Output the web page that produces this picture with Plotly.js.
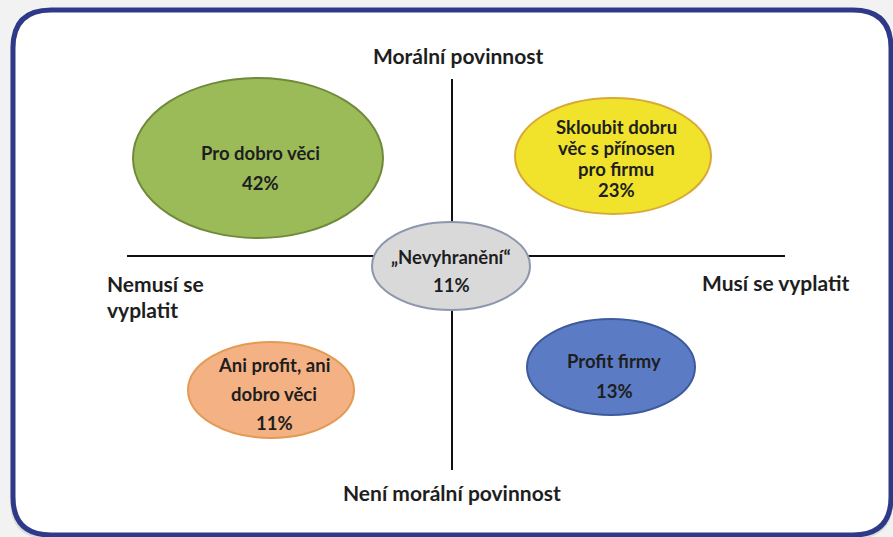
<!DOCTYPE html>
<html>
<head>
<meta charset="utf-8">
<script src="https://cdn.plot.ly/plotly-3.0.1.min.js"></script>
<style>
  html, body { margin: 0; padding: 0; background: #f2f2f2; }
  #chart { width: 893px; height: 537px; }
</style>
</head>
<body>
<div id="chart"></div>
<script>
// segments of the attitude map and their shares (%)
const segments = ['Pro dobro věci', 'Skloubit dobru\nvěc s přínosen\npro firmu', '„Nevyhranění“', 'Ani profit, ani\ndobro věci', 'Profit firmy'];
const shares = [42, 23, 11, 11, 13];
// axis end labels: top, bottom, left, right
const axisLabels = ['Morální povinnost', 'Není morální povinnost', 'Nemusí se\nvyplatit', 'Musí se vyplatit'];

// bubble placement (pixel space of the picture)
const bubbleCx = [258, 613, 451, 271, 611];
const bubbleCy = [158, 156, 266, 390, 367];
const bubbleRx = [125, 98, 79, 83, 84];
const bubbleRy = [80, 58, 44, 48, 48];
const textCx = [260, 616, 451, 274, 614];
const firstLineY = [153, 127, 257, 365, 361];
const lineGap = [30, 21, 28, 29, 30];
const fills = ['#9bbb59', '#f1e32c', '#d9d9d9', '#f4b183', '#5b7cc4'];
const borders = ['#6f8a3a', '#d9a934', '#8c97ad', '#e39a55', '#3d5a9c'];

const W = 893, H = 537;
const font = { family: 'Lato, "Open Sans", sans-serif', size: 18.5, color: '#1e1e1e' };

const roundedBox = (x0, y0, x1, y1, r) =>
    `M ${x0 + r},${y0} L ${x1 - r},${y0} Q ${x1},${y0} ${x1},${y0 + r} ` +
    `L ${x1},${y1 - r} Q ${x1},${y1} ${x1 - r},${y1} L ${x0 + r},${y1} ` +
    `Q ${x0},${y1} ${x0},${y1 - r} L ${x0},${y0 + r} Q ${x0},${y0} ${x0 + r},${y0} Z`;

const shapes = [
    // soft shadow + frame
    { type: 'path', path: roundedBox(10, 12, 893, 539, 38), fillcolor: '#dcdcdc', line: { width: 0 } },
    { type: 'path', path: roundedBox(13, 10, 891, 535, 38), fillcolor: '#ffffff', line: { color: '#2e3a87', width: 5 } },
    // cross
    { type: 'line', x0: 452, x1: 452, y0: 79, y1: 470, line: { color: '#111', width: 2 } },
    { type: 'line', x0: 127, x1: 785, y0: 256, y1: 256, line: { color: '#111', width: 2 } }
];

segments.forEach((s, i) => {
    shapes.push({
        type: 'circle',
        x0: bubbleCx[i] - bubbleRx[i], x1: bubbleCx[i] + bubbleRx[i],
        y0: bubbleCy[i] - bubbleRy[i], y1: bubbleCy[i] + bubbleRy[i],
        fillcolor: fills[i],
        line: { color: borders[i], width: 2 }
    });
});

const annotations = [];
segments.forEach((s, i) => {
    const lines = s.split('\n').concat([shares[i] + '%']);
    lines.forEach((t, j) => {
        annotations.push({
            x: textCx[i], y: firstLineY[i] + j * lineGap[i],
            text: '<b>' + t + '</b>', showarrow: false,
            xanchor: 'center', yanchor: 'middle', font
        });
    });
});

const axisFont = Object.assign({}, font, { size: 21 });
annotations.push(
    { x: 458, y: 55, text: '<b>' + axisLabels[0] + '</b>', showarrow: false, xanchor: 'center', yanchor: 'middle', font: axisFont },
    { x: 452, y: 492, text: '<b>' + axisLabels[1] + '</b>', showarrow: false, xanchor: 'center', yanchor: 'middle', font: axisFont },
    { x: 105, y: 283, text: '<b>' + axisLabels[2].split('\n')[0] + '</b>', showarrow: false, xanchor: 'left', yanchor: 'middle', font: axisFont },
    { x: 105, y: 309, text: '<b>' + axisLabels[2].split('\n')[1] + '</b>', showarrow: false, xanchor: 'left', yanchor: 'middle', font: axisFont },
    { x: 700, y: 282, text: '<b>' + axisLabels[3] + '</b>', showarrow: false, xanchor: 'left', yanchor: 'middle', font: axisFont }
);

const layout = {
    width: W, height: H,
    margin: { l: 0, r: 0, t: 0, b: 0 },
    paper_bgcolor: '#f2f2f2',
    plot_bgcolor: 'rgba(0,0,0,0)',
    xaxis: { range: [0, W], visible: false, fixedrange: true },
    yaxis: { range: [H, 0], visible: false, fixedrange: true },
    showlegend: false,
    shapes, annotations
};

Plotly.newPlot('chart', [], layout, { displayModeBar: false, staticPlot: true });
</script>
</body>
</html>
